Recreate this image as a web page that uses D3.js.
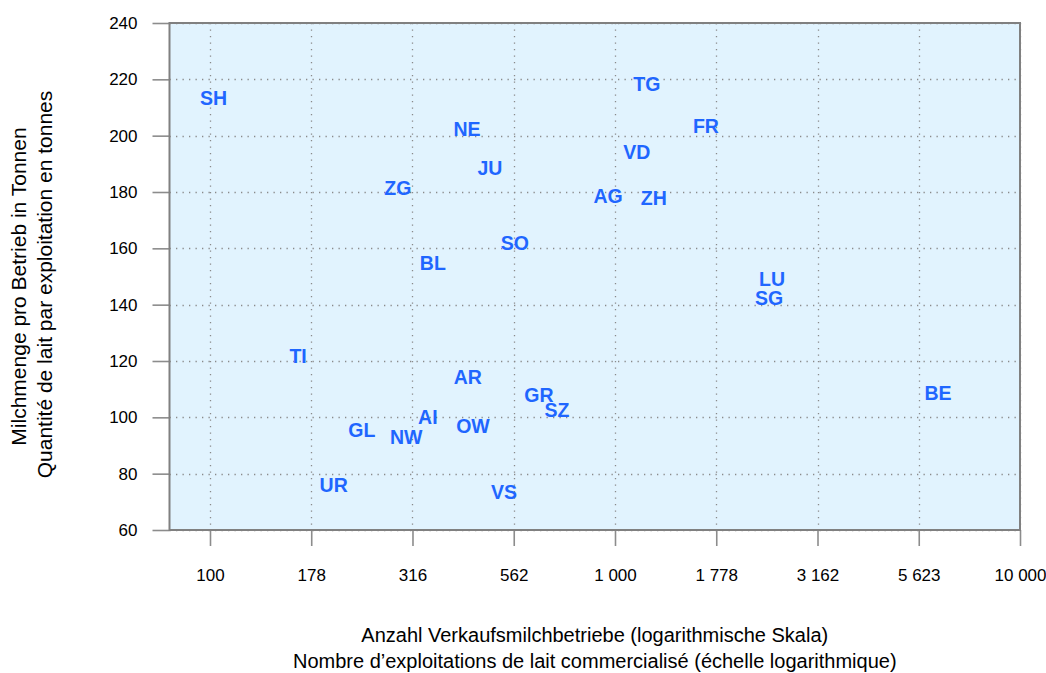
<!DOCTYPE html>
<html>
<head>
<meta charset="utf-8">
<script src="https://d3js.org/d3.v7.min.js"></script>
<style>
  body { margin: 0; background: #fff; }
  text { font-family: "Liberation Sans", Arial, sans-serif; }
</style>
</head>
<body>
<script>
// Kantone
var cantons = ["SH","NE","JU","ZG","BL","SO","TG","FR","VD","AG","ZH","LU","SG","BE","TI","AR","GR","SZ","AI","OW","GL","NW","UR","VS"]
// Anzahl Verkaufsmilchbetriebe
var farms = [102, 431, 491, 291, 355, 566, 1199, 1677, 1132, 961, 1247, 2443, 2400, 6275, 165, 433, 649, 719, 345, 446, 237, 305, 202, 532]
// Milchmenge pro Betrieb (t)
var milk = [213.4, 202.4, 188.5, 181.4, 154.8, 161.9, 218.3, 203.4, 194.2, 178.6, 177.9, 149.1, 142.4, 108.6, 121.8, 114.3, 107.9, 102.6, 100.1, 96.9, 95.5, 93, 76, 73.5]

var xTickValues = [100, 177.8, 316.2, 562.3, 1000, 1778.3, 3162.3, 5623.4, 10000]
var xTickLabels = ["100", "178", "316", "562", "1 000", "1 778", "3 162", "5 623", "10 000"]
var yTickValues = [60, 80, 100, 120, 140, 160, 180, 200, 220, 240]

var width = 1046
var height = 673
var plot = { left: 169.5, right: 1020, top: 23, bottom: 530 }

var svg = d3.select("body").append("svg")
  .attr("width", width)
  .attr("height", height)

var x = d3.scaleLog()
  .domain([Math.pow(10, 1.9), 10000])
  .range([plot.left, plot.right])

var y = d3.scaleLinear()
  .domain([60, 240])
  .range([plot.bottom, plot.top])

// Hintergrund
svg.append("rect")
  .attr("x", plot.left).attr("y", plot.top)
  .attr("width", plot.right - plot.left)
  .attr("height", plot.bottom - plot.top)
  .attr("fill", "#e1f3fe")

// Gitter
svg.append("g").selectAll("line")
  .data(xTickValues)
  .enter().append("line")
  .attr("x1", function(d){ return Math.round(x(d)) + 0.5 })
  .attr("x2", function(d){ return Math.round(x(d)) + 0.5 })
  .attr("y1", plot.top).attr("y2", plot.bottom)
  .attr("stroke", "#8a8a8a").attr("stroke-width", 1.3)
  .attr("stroke-dasharray", "1.3,5.2")

svg.append("g").selectAll("line")
  .data(yTickValues)
  .enter().append("line")
  .attr("y1", function(d){ return Math.round(y(d)) + 0.5 })
  .attr("y2", function(d){ return Math.round(y(d)) + 0.5 })
  .attr("x1", plot.left).attr("x2", plot.right)
  .attr("stroke", "#8a8a8a").attr("stroke-width", 1.3)
  .attr("stroke-dasharray", "1.3,5.2")

// Achsen
svg.append("g")
  .attr("transform", "translate(0," + plot.bottom + ")")
  .call(d3.axisBottom(x)
    .tickValues(xTickValues)
    .tickFormat(function(d, i){ return xTickLabels[i] })
    .tickSize(16)
    .tickPadding(23))

svg.append("g")
  .attr("transform", "translate(" + plot.left + ",0)")
  .call(d3.axisLeft(y)
    .tickValues(yTickValues)
    .tickSize(17)
    .tickPadding(15))

svg.selectAll(".domain").remove()
svg.selectAll(".tick line").attr("stroke", "#8c8c8c").attr("stroke-width", 1.6)
svg.selectAll(".tick text")
  .attr("fill", "#000")
  .attr("font-size", "17px")
  .attr("font-family", "Liberation Sans, Arial, sans-serif")

// Rahmen
svg.append("rect")
  .attr("x", plot.left).attr("y", plot.top)
  .attr("width", plot.right - plot.left)
  .attr("height", plot.bottom - plot.top)
  .attr("fill", "none")
  .attr("stroke", "#808080")
  .attr("stroke-width", 2)

// Beschriftungen der Kantone
svg.append("g").selectAll("text")
  .data(cantons)
  .enter().append("text")
  .attr("x", function(d, i){ return x(farms[i]) })
  .attr("y", function(d, i){ return y(milk[i]) })
  .attr("dy", "0.36em")
  .attr("text-anchor", "middle")
  .attr("font-size", "19.5px")
  .attr("font-weight", "bold")
  .attr("fill", "#1f66ff")
  .text(function(d){ return d })

// Achsentitel
var xTitle = svg.append("text")
  .attr("text-anchor", "middle")
  .attr("font-size", "20px")
  .attr("fill", "#000")
xTitle.append("tspan")
  .attr("x", (plot.left + plot.right) / 2).attr("y", 642)
  .text("Anzahl Verkaufsmilchbetriebe (logarithmische Skala)")
xTitle.append("tspan")
  .attr("x", (plot.left + plot.right) / 2).attr("y", 668)
  .text("Nombre d\u2019exploitations de lait commercialisé (échelle logarithmique)")

var yTitle = svg.append("text")
  .attr("text-anchor", "middle")
  .attr("font-size", "21px")
  .attr("fill", "#000")
  .attr("transform", "rotate(-90)")
yTitle.append("tspan")
  .attr("x", -(plot.top + plot.bottom) / 2 - 10).attr("y", 26)
  .text("Milchmenge pro Betrieb in Tonnen")
yTitle.append("tspan")
  .attr("x", -(plot.top + plot.bottom) / 2 - 8).attr("y", 52)
  .text("Quantité de lait par exploitation en tonnes")
</script>
</body>
</html>
